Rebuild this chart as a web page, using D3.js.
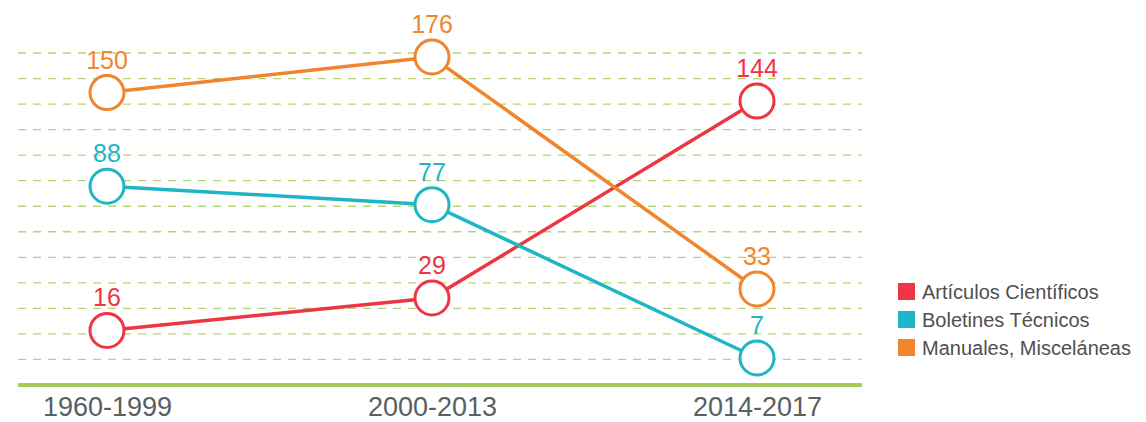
<!DOCTYPE html>
<html>
<head>
<meta charset="utf-8">
<script src="https://cdn.jsdelivr.net/npm/d3@7"></script>
<style>
    body { margin: 0; background: #fff; }
    text { font-family: 'Liberation Sans', Arial, sans-serif; }
</style>
</head>
<body>
<div class="chart-container"></div>
<script>
// data
const periods = ['1960-1999', '2000-2013', '2014-2017'];
const articulos = [16, 29, 144];
const boletines = [88, 77, 7];
const manuales = [150, 176, 33];
const seriesNames = ['Artículos Científicos', 'Boletines Técnicos', 'Manuales, Misceláneas'];
const seriesColors = ['#ee3543', '#1db6c5', '#f0852d'];

const series = [articulos, boletines, manuales].map((values, i) => ({
    name: seriesNames[i],
    color: seriesColors[i],
    values: values.map((v, j) => ({ period: periods[j], value: v }))
}));

const width = 1146;
const height = 422;
const axisY = 385;
const plotLeft = 18;
const plotRight = 862;

// scales
const xScale = d3.scalePoint()
    .domain(periods)
    .range([107, 757]);

// the infographic compresses large values, a power scale follows it best
const allValues = [...articulos, ...boletines, ...manuales];
const yScale = d3.scalePow()
    .exponent(0.7)
    .domain(d3.extent(allValues))
    .range([358, 57]);

// grid rows (13 dashed rows above the base line)
const gridScale = d3.scaleLinear()
    .domain([0, 13])
    .range([axisY, 53]);

const svg = d3.select('.chart-container')
    .append('svg')
    .attr('width', width)
    .attr('height', height);

// dashed grid
svg.append('g')
    .attr('class', 'grid')
    .selectAll('line')
    .data(d3.range(1, 14))
    .enter()
        .append('line')
        .attr('x1', plotLeft)
        .attr('x2', plotRight)
        .attr('y1', d => gridScale(d))
        .attr('y2', d => gridScale(d))
        .style('stroke', '#b5d672')
        .style('stroke-width', 1.3)
        .style('stroke-dasharray', '8 7');

// base line + period labels
const xAxis = d3.axisBottom(xScale).tickSize(0).tickPadding(12);
const xAxisDraw = svg.append('g')
    .attr('class', 'x axis')
    .attr('transform', `translate(0, ${axisY})`)
    .call(xAxis);

xAxisDraw.select('.domain').remove();
xAxisDraw.insert('line', ':first-child')
    .attr('x1', plotLeft)
    .attr('x2', plotRight)
    .style('stroke', '#a8c95e')
    .style('stroke-width', 4);

xAxisDraw.selectAll('text')
    .attr('font-size', '27px')
    .style('font-family', "'Liberation Sans', Arial, sans-serif")
    .style('fill', '#596061');

// lines
const lineGen = d3.line()
    .x(d => xScale(d.period))
    .y(d => yScale(d.value));

svg.append('g')
    .attr('class', 'lines')
    .selectAll('path')
    .data(series)
    .enter()
        .append('path')
        .attr('d', d => lineGen(d.values))
        .style('fill', 'none')
        .style('stroke', d => d.color)
        .style('stroke-width', 3.5);

// circles
const points = series.flatMap(s => s.values.map(v => ({ ...v, color: s.color })));

svg.append('g')
    .attr('class', 'points')
    .selectAll('circle')
    .data(points)
    .enter()
        .append('circle')
        .attr('cx', d => xScale(d.period))
        .attr('cy', d => yScale(d.value))
        .attr('r', 17)
        .style('fill', '#fff')
        .style('stroke', d => d.color)
        .style('stroke-width', 3);

// value labels, on top of everything
svg.append('g')
    .attr('class', 'value-labels')
    .selectAll('text')
    .data(points)
    .enter()
        .append('text')
        .attr('x', d => xScale(d.period))
        .attr('y', d => yScale(d.value) - 24)
        .attr('text-anchor', 'middle')
        .style('font-size', '25px')
        .style('fill', d => d.color)
        .text(d => d.value);

// legend
const legend = svg.append('g')
    .attr('class', 'legend')
    .attr('transform', 'translate(898, 283)');

const legendItems = legend.selectAll('g')
    .data(series)
    .enter()
        .append('g')
        .attr('transform', (d, i) => `translate(0, ${i * 28})`);

legendItems.append('rect')
    .attr('width', 17)
    .attr('height', 17)
    .style('fill', d => d.color);

legendItems.append('text')
    .attr('x', 24)
    .attr('y', 9)
    .style('dominant-baseline', 'central')
    .style('font-size', '20px')
    .style('fill', '#4f4f4f')
    .text(d => d.name);
</script>
</body>
</html>
